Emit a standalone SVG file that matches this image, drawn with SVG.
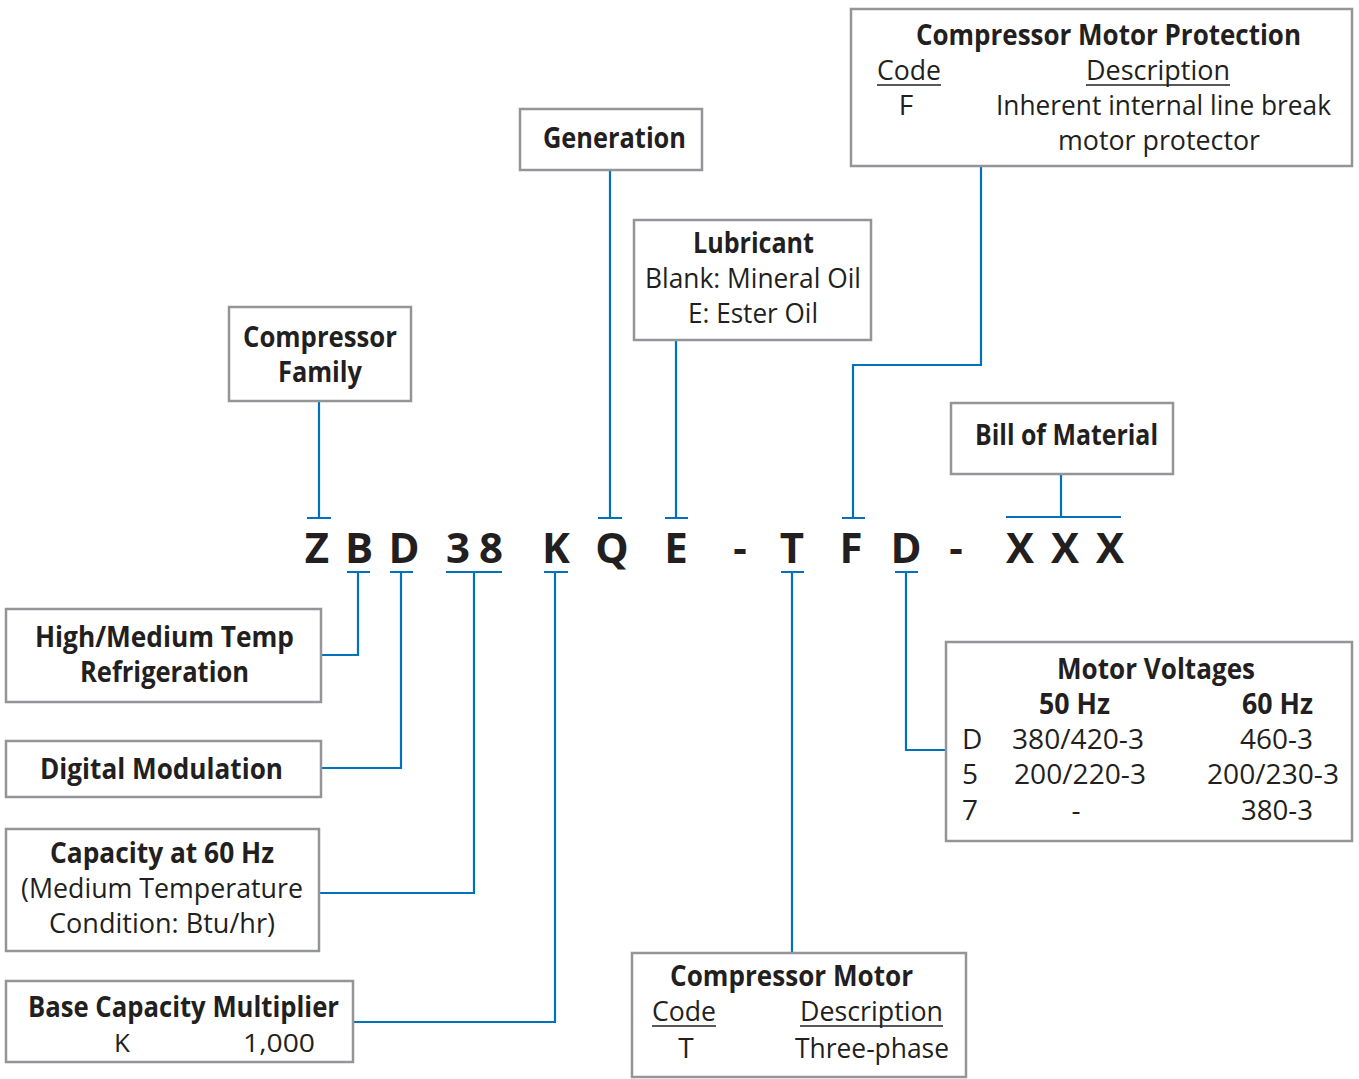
<svg xmlns="http://www.w3.org/2000/svg" width="1359" height="1079" viewBox="0 0 1359 1079">
<style>
.box{fill:#fff;stroke:#939598;stroke-width:2.5}
.c{fill:none;stroke:#0072bc;stroke-width:2.2}
text{font-family:"Open Sans","Noto Sans",sans-serif;fill:#231f20;font-size:28px}
.b{font-weight:bold}
.code{font-size:42px;font-weight:bold;text-anchor:middle}
.m{text-anchor:middle}
.s{font-size:26px}
.u{stroke:#231f20;stroke-width:1.5}
</style>
<rect width="1359" height="1079" fill="#fff"/>
<g id="connectors">
<path class="c" d="M981 166V365H853V518M842 518H865"/>
<path class="c" d="M610 170V518M598 518H622"/>
<path class="c" d="M676 340V518M665 518H688"/>
<path class="c" d="M319 401V518M307 518H331"/>
<path class="c" d="M1061 474V517M1006 517H1121"/>
<path class="c" d="M347 572H370M358 572V655H321"/>
<path class="c" d="M390 572H413M401 572V768H321"/>
<path class="c" d="M446 572H502M474 572V893H320"/>
<path class="c" d="M544 572H568M555 572V1022H354"/>
<path class="c" d="M781 572H804M792 572V953"/>
<path class="c" d="M895 572H918M906 572V750H946"/>
</g>
<g id="code">
<text class="code" x="317" y="563">Z</text>
<text class="code" x="359" y="563">B</text>
<text class="code" x="404" y="563">D</text>
<text class="code" x="458" y="563">3</text>
<text class="code" x="491" y="563">8</text>
<text class="code" x="556" y="563">K</text>
<text class="code" x="612" y="563">Q</text>
<text class="code" x="676" y="563">E</text>
<text class="code" x="740" y="563">-</text>
<text class="code" x="792" y="563">T</text>
<text class="code" x="851" y="563">F</text>
<text class="code" x="906" y="563">D</text>
<text class="code" x="956" y="563">-</text>
<text class="code" x="1020" y="563">X</text>
<text class="code" x="1065" y="563">X</text>
<text class="code" x="1110" y="563">X</text>
</g>
<g id="protection">
<rect class="box" x="851" y="9" width="501" height="157"/>
<text class="b" x="916" y="45" textLength="385" lengthAdjust="spacingAndGlyphs">Compressor Motor Protection</text>
<text x="877" y="80" textLength="64" lengthAdjust="spacingAndGlyphs">Code</text>
<line class="u" x1="877" y1="85" x2="941" y2="85"/>
<text x="1086" y="80" textLength="144" lengthAdjust="spacingAndGlyphs">Description</text>
<line class="u" x1="1086" y1="85" x2="1230" y2="85"/>
<text class="m" x="906" y="115">F</text>
<text x="996" y="115" textLength="335" lengthAdjust="spacingAndGlyphs">Inherent internal line break</text>
<text x="1058" y="150" textLength="202" lengthAdjust="spacingAndGlyphs">motor protector</text>
</g>
<g id="generation">
<rect class="box" x="520" y="109" width="182" height="61"/>
<text class="b" x="543" y="148" textLength="143" lengthAdjust="spacingAndGlyphs">Generation</text>
</g>
<g id="lubricant">
<rect class="box" x="634" y="220" width="237" height="120"/>
<text class="b" x="693" y="253" textLength="121" lengthAdjust="spacingAndGlyphs">Lubricant</text>
<text x="645" y="288" textLength="216" lengthAdjust="spacingAndGlyphs">Blank: Mineral Oil</text>
<text x="688" y="323" textLength="130" lengthAdjust="spacingAndGlyphs">E: Ester Oil</text>
</g>
<g id="family">
<rect class="box" x="229" y="307" width="182" height="94"/>
<text class="b" x="243" y="347" textLength="154" lengthAdjust="spacingAndGlyphs">Compressor</text>
<text class="b" x="278" y="382" textLength="84" lengthAdjust="spacingAndGlyphs">Family</text>
</g>
<g id="bom">
<rect class="box" x="951" y="403" width="222" height="71"/>
<text class="b" x="975" y="445" textLength="183" lengthAdjust="spacingAndGlyphs">Bill of Material</text>
</g>
<g id="hightemp">
<rect class="box" x="6" y="609" width="315" height="93"/>
<text class="b" x="35" y="647" textLength="259" lengthAdjust="spacingAndGlyphs">High/Medium Temp</text>
<text class="b" x="80" y="682" textLength="169" lengthAdjust="spacingAndGlyphs">Refrigeration</text>
</g>
<g id="digital">
<rect class="box" x="6" y="741" width="315" height="56"/>
<text class="b" x="40" y="779" textLength="243" lengthAdjust="spacingAndGlyphs">Digital Modulation</text>
</g>
<g id="capacity">
<rect class="box" x="6" y="829" width="313" height="122"/>
<text class="b" x="50" y="863" textLength="224" lengthAdjust="spacingAndGlyphs">Capacity at 60 Hz</text>
<text x="21" y="898" textLength="282" lengthAdjust="spacingAndGlyphs">(Medium Temperature</text>
<text x="49" y="933" textLength="226" lengthAdjust="spacingAndGlyphs">Condition: Btu/hr)</text>
</g>
<g id="multiplier">
<rect class="box" x="6" y="981" width="347" height="81"/>
<text class="b" x="28" y="1017" textLength="311" lengthAdjust="spacingAndGlyphs">Base Capacity Multiplier</text>
<text class="m s" x="122" y="1052">K</text>
<text class="s" x="243" y="1052" textLength="72" lengthAdjust="spacingAndGlyphs">1,000</text>
</g>
<g id="motor">
<rect class="box" x="632" y="953" width="334" height="124"/>
<text class="b" x="670" y="986" textLength="243" lengthAdjust="spacingAndGlyphs">Compressor Motor</text>
<text x="652" y="1021" textLength="64" lengthAdjust="spacingAndGlyphs">Code</text>
<line class="u" x1="652" y1="1026" x2="716" y2="1026"/>
<text x="800" y="1021" textLength="143" lengthAdjust="spacingAndGlyphs">Description</text>
<line class="u" x1="800" y1="1026" x2="943" y2="1026"/>
<text class="m" x="686" y="1058">T</text>
<text x="795" y="1058" textLength="154" lengthAdjust="spacingAndGlyphs">Three-phase</text>
</g>
<g id="voltages">
<rect class="box" x="946" y="642" width="406" height="199"/>
<text class="b" x="1057" y="679" textLength="198" lengthAdjust="spacingAndGlyphs">Motor Voltages</text>
<text class="b" x="1039" y="714" textLength="71" lengthAdjust="spacingAndGlyphs">50 Hz</text>
<text class="b" x="1242" y="714" textLength="71" lengthAdjust="spacingAndGlyphs">60 Hz</text>
<text x="962" y="749">D</text>
<text x="1012" y="749" textLength="132" lengthAdjust="spacingAndGlyphs">380/420-3</text>
<text x="1240" y="749" textLength="73" lengthAdjust="spacingAndGlyphs">460-3</text>
<text x="962" y="784">5</text>
<text x="1014" y="784" textLength="132" lengthAdjust="spacingAndGlyphs">200/220-3</text>
<text x="1207" y="784" textLength="132" lengthAdjust="spacingAndGlyphs">200/230-3</text>
<text x="962" y="820">7</text>
<text class="m" x="1076" y="820">-</text>
<text x="1241" y="820" textLength="72" lengthAdjust="spacingAndGlyphs">380-3</text>
</g>
</svg>
